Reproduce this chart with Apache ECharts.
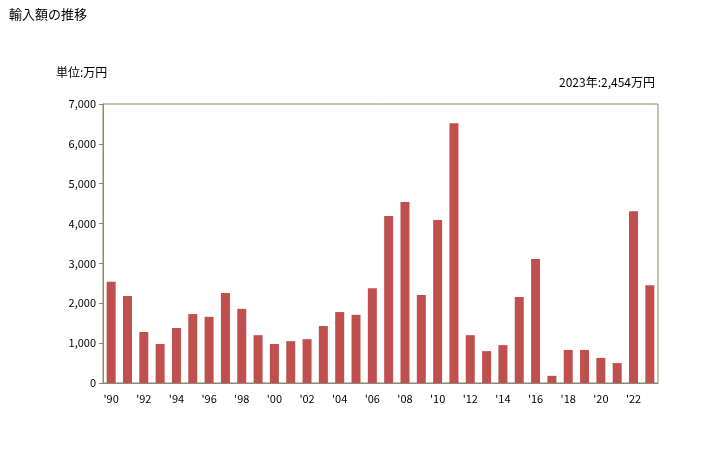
<!DOCTYPE html>
<html><head><meta charset="utf-8">
<script src="https://cdn.jsdelivr.net/npm/echarts@6/dist/echarts.min.js"></script>
<style>html,body{margin:0;padding:0;background:#fff}#c{width:728px;height:450px}</style>
</head><body><div id="c"></div>
<script>
const years = [1990,1991,1992,1993,1994,1995,1996,1997,1998,1999,2000,2001,2002,2003,2004,2005,2006,2007,2008,2009,2010,2011,2012,2013,2014,2015,2016,2017,2018,2019,2020,2021,2022,2023];
const values = [2540,2180,1280,980,1380,1730,1660,2260,1860,1200,980,1050,1100,1430,1780,1710,2380,4190,4540,2210,4090,6520,1200,800,950,2160,3110,180,830,830,630,500,4310,2454];
const yTicks = {min:0, max:7000, interval:1000};
const titleText = '輸入額の推移';
const unitText = '単位:万円';

const font = '"Noto Sans CJK JP", "Noto Sans", sans-serif';
const lastIdx = years.length - 1;
const latestText = years[lastIdx] + '年:' + values[lastIdx].toLocaleString('en-US') + '万円';

const chart = echarts.init(document.getElementById('c'), null, {renderer:'canvas'});
chart.setOption({
  animation:false,
  backgroundColor:'#fff',
  title:{text:titleText, left:4, top:3, textStyle:{fontFamily:font, fontSize:13, fontWeight:'normal', color:'#000'}},
  graphic:[
    {type:'text', left:56, top:66, style:{text:unitText, font:'12px '+font, fill:'#000'}},
    {type:'text', right:73, top:76, style:{text:latestText, font:'12px '+font, fill:'#000'}}
  ],
  grid:{left:103, right:70, top:104, bottom:67, show:true, borderColor:'#8f8c55', borderWidth:1, backgroundColor:'transparent'},
  xAxis:{
    type:'category',
    data:years.map(y=>"'"+String(y).slice(2)),
    axisLine:{lineStyle:{color:'#888', width:1}},
    axisTick:{show:false},
    axisLabel:{interval:1, color:'#000', fontFamily:font, fontSize:11, margin:10}
  },
  yAxis:{
    type:'value', min:yTicks.min, max:yTicks.max, interval:yTicks.interval,
    axisLine:{show:true, lineStyle:{color:'#888', width:1}},
    axisTick:{show:true, length:4, lineStyle:{color:'#888'}},
    splitLine:{show:false},
    axisLabel:{color:'#000', fontFamily:font, fontSize:11, margin:7, formatter:v=>v.toLocaleString('en-US')}
  },
  series:[{type:'bar', data:values, barWidth:9, itemStyle:{color:'#c0504d'}}]
});
</script></body></html>
